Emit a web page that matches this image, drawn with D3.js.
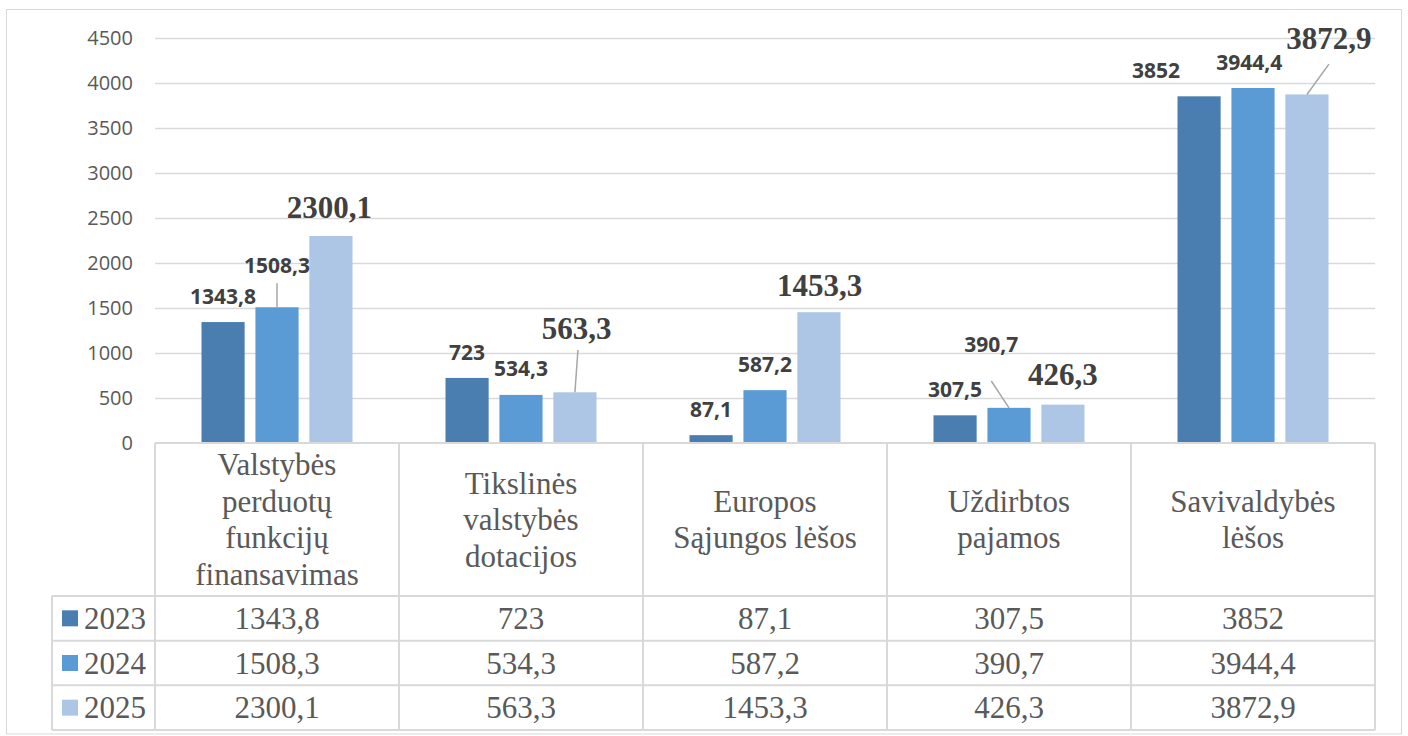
<!DOCTYPE html>
<html>
<head>
<meta charset="utf-8">
<script src="https://cdn.jsdelivr.net/npm/d3@7"></script>
<style>
  html, body { margin: 0; padding: 0; background: #fff; }
  svg { display: block; }
</style>
</head>
<body>
<svg id="chart" width="1408" height="736"></svg>
<script>
// ---------- DATA ----------
const categories = [
  "Valstybės perduotų funkcijų finansavimas",
  "Tikslinės valstybės dotacijos",
  "Europos Sąjungos lėšos",
  "Uždirbtos pajamos",
  "Savivaldybės lėšos"
];
const categoryLines = [
  ["Valstybės", "perduotų", "funkcijų", "finansavimas"],
  ["Tikslinės", "valstybės", "dotacijos"],
  ["Europos", "Sąjungos lėšos"],
  ["Uždirbtos", "pajamos"],
  ["Savivaldybės", "lėšos"]
];
const years = ["2023", "2024", "2025"];
const values2023 = [1343.8, 723, 87.1, 307.5, 3852];
const values2024 = [1508.3, 534.3, 587.2, 390.7, 3944.4];
const values2025 = [2300.1, 563.3, 1453.3, 426.3, 3872.9];
const yTicks = [0, 500, 1000, 1500, 2000, 2500, 3000, 3500, 4000, 4500];

// ---------- LAYOUT / STYLE ----------
const colors = ["#4A7EB0", "#5B9BD5", "#ADC6E5"];
const gridColor = "#d9d9d9";
const serif = "'Liberation Serif', 'Times New Roman', serif";
const sans = "'Open Sans', 'Liberation Sans', sans-serif";

// manual label nudges (dx, extra lift) per series per category, and leader line starts
const labelNudge = [
  [[0, 0], [0, 0], [0, 0], [0, 0], [-43, 0]],
  [[0, 16], [0, 0.5], [0, 0], [-17.7, 37.5], [-3.7, 0]],
  [[-1.5, 0], [1.7, 35], [0.8, -1.5], [0, 1.6], [22, 27]]
];
const leaderStart = [
  [null, null, null, null, null],
  [[0, 10], null, null, [0, 28.7], null],
  [null, [1.3, 10.7], null, null, [0, 14.7]]
];

const series = [values2023, values2024, values2025];

const svg = d3.select("#chart");

const plotLeft = 155, plotRight = 1375, yTop = 38, yZero = 443;
const headerBottom = 596, tableBottom = 730, legendLeft = 52;

const x0 = d3.scaleBand().domain(categories).range([plotLeft, plotRight]).padding(0);
const x1 = d3.scaleBand().domain(years).range([46.5, 197.5]).paddingInner(0.2).paddingOuter(0);
const y = d3.scaleLinear().domain([0, 4500]).range([yZero, yTop]);
const rowScale = d3.scaleBand().domain(years).range([headerBottom, tableBottom]);

// outer border
svg.append("rect")
  .attr("x", 6.5).attr("y", 9.5).attr("width", 1395).attr("height", 724.5)
  .attr("fill", "none").attr("stroke", gridColor).attr("stroke-width", 1);

// gridlines
const grid = svg.append("g").attr("transform", `translate(${plotLeft},0)`)
  .call(d3.axisLeft(y).tickValues(yTicks.filter(d => d > 0)).tickSize(-(plotRight - plotLeft)).tickFormat(""));
grid.select(".domain").remove();
grid.selectAll(".tick line").attr("stroke", gridColor).attr("stroke-width", 1.5);

// y axis labels
const yAxis = svg.append("g").attr("transform", `translate(${plotLeft},0)`)
  .call(d3.axisLeft(y).tickValues(yTicks).tickSize(0).tickPadding(22).tickFormat(d3.format("d")));
yAxis.select(".domain").remove();
yAxis.selectAll(".tick text")
  .attr("font-family", sans).attr("font-size", 20).attr("fill", "#595959");

// bars
const groups = svg.append("g").selectAll("g")
  .data(categories).join("g")
  .attr("transform", d => `translate(${x0(d)},0)`);

groups.selectAll("rect")
  .data((c, ci) => years.map((yr, si) => ({ yr, si, ci, v: series[si][ci] })))
  .join("rect")
  .attr("x", d => x1(d.yr))
  .attr("y", d => y(d.v))
  .attr("width", x1.bandwidth())
  .attr("height", d => y(0) - y(d.v))
  .attr("fill", d => colors[d.si]);

// table lines
const tbl = svg.append("g").attr("stroke", gridColor).attr("stroke-width", 2).attr("fill", "none");
tbl.append("line").attr("x1", plotLeft).attr("x2", plotRight).attr("y1", yZero).attr("y2", yZero);
[headerBottom, ...years.map(yr => rowScale(yr) + rowScale.bandwidth())].forEach(yy => {
  tbl.append("line").attr("x1", legendLeft).attr("x2", plotRight).attr("y1", yy).attr("y2", yy);
});
tbl.append("line").attr("x1", legendLeft).attr("x2", legendLeft).attr("y1", headerBottom).attr("y2", tableBottom);
categories.forEach(c => {
  tbl.append("line").attr("x1", x0(c)).attr("x2", x0(c)).attr("y1", yZero).attr("y2", tableBottom);
});
tbl.append("line").attr("x1", plotRight).attr("x2", plotRight).attr("y1", yZero).attr("y2", tableBottom);

// header category text
const headerMid = (yZero + headerBottom) / 2;
const lineH = 36.5;
categories.forEach((c, ci) => {
  const lines = categoryLines[ci];
  const t = svg.append("text")
    .attr("font-family", serif).attr("font-size", 31).attr("fill", "#595959")
    .attr("text-anchor", "middle");
  lines.forEach((ln, li) => {
    t.append("tspan")
      .attr("x", x0(c) + x0.bandwidth() / 2)
      .attr("y", headerMid + 10.5 + (li - (lines.length - 1) / 2) * lineH)
      .text(ln);
  });
});

// table values + legend
const fmt = v => String(v).replace(".", ",");
years.forEach((yr, si) => {
  const cy = rowScale(yr) + rowScale.bandwidth() / 2;
  svg.append("rect").attr("x", 62).attr("y", cy - 8).attr("width", 16).attr("height", 16)
    .attr("fill", colors[si]);
  svg.append("text").attr("x", 84).attr("y", cy + 10.5)
    .attr("font-family", serif).attr("font-size", 31).attr("fill", "#595959")
    .text(yr);
  categories.forEach((c, ci) => {
    svg.append("text")
      .attr("x", x0(c) + x0.bandwidth() / 2).attr("y", cy + 10.5)
      .attr("text-anchor", "middle")
      .attr("font-family", serif).attr("font-size", 31).attr("fill", "#595959")
      .text(fmt(series[si][ci]));
  });
});

// data labels + leader lines
const lbl = svg.append("g");
series.forEach((vals, si) => {
  vals.forEach((v, ci) => {
    const cx = x0(categories[ci]) + x1(years[si]) + x1.bandwidth() / 2;
    const top = y(v);
    const [dx, lift] = labelNudge[si][ci];
    const lx = cx + dx, ly = top - 18 - lift;
    const ls = leaderStart[si][ci];
    if (ls) {
      lbl.append("line")
        .attr("x1", lx + ls[0]).attr("y1", ly + ls[1])
        .attr("x2", cx).attr("y2", top)
        .attr("stroke", "#a6a6a6").attr("stroke-width", 1.5);
    }
    const big = si === 2;
    lbl.append("text")
      .attr("x", lx).attr("y", ly)
      .attr("text-anchor", "middle")
      .attr("font-family", big ? serif : sans)
      .attr("font-size", big ? 31 : 21)
      .attr("font-weight", 700)
      .attr("fill", "#404040")
      .text(fmt(v));
  });
});
</script>
</body>
</html>
